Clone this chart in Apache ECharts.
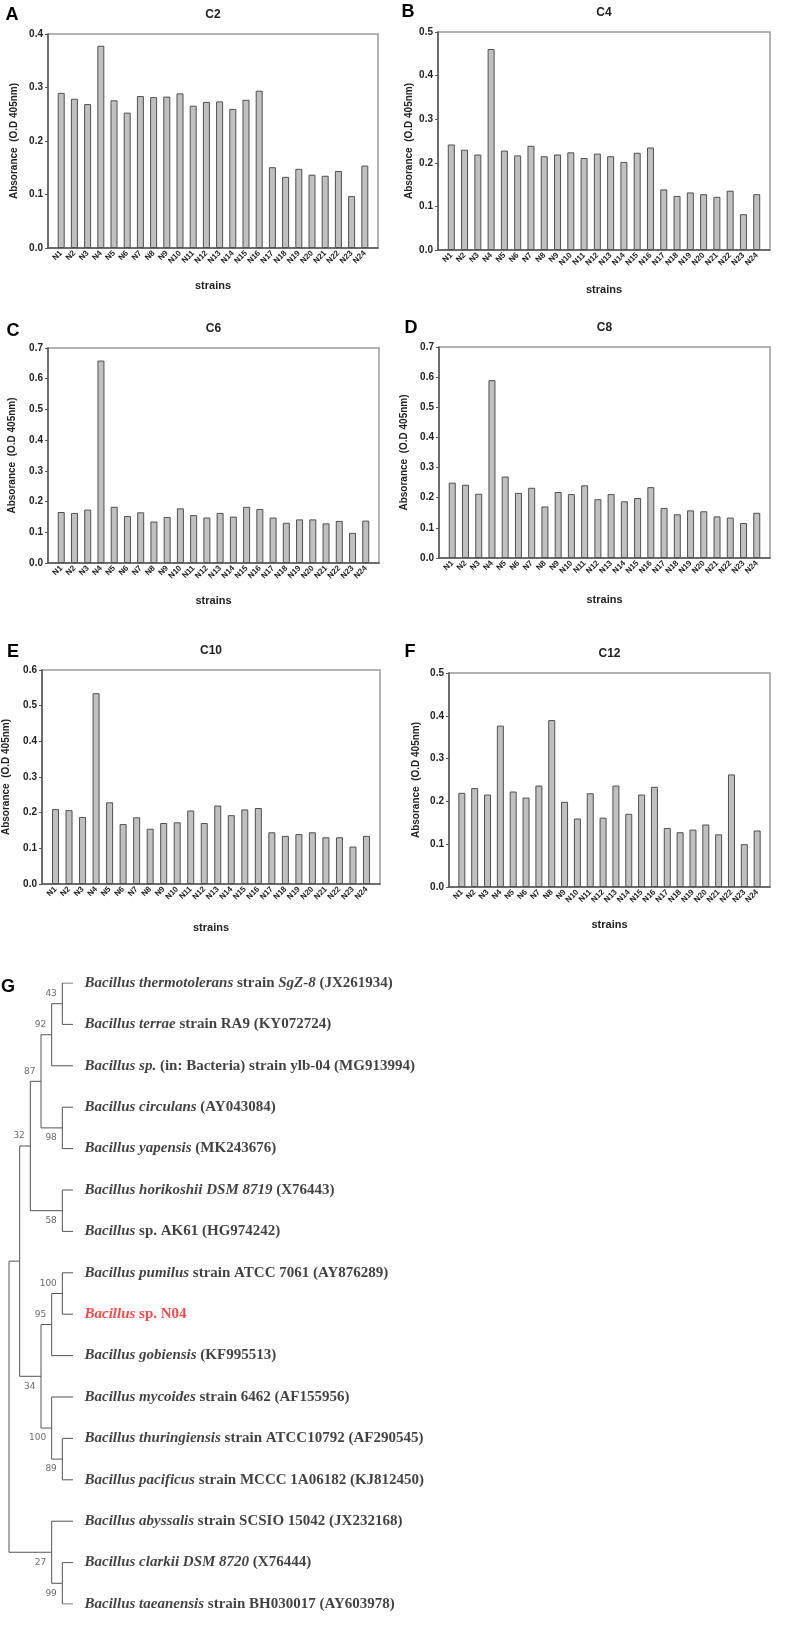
<!DOCTYPE html>
<html><head><meta charset="utf-8">
<script src="https://cdn.jsdelivr.net/npm/echarts@6/dist/echarts.min.js"></script>
<style>html,body{margin:0;padding:0;background:#fff}#chart{width:787px;height:1631px}</style>
</head><body><div id="chart"></div>
<script>
// ---------- DATA ----------
const strains = ['N1','N2','N3','N4','N5','N6','N7','N8','N9','N10','N11','N12','N13','N14','N15','N16','N17','N18','N19','N20','N21','N22','N23','N24'];
const panelTitles = ['C2','C4','C6','C8','C10','C12'];
const panelLetters = ['A','B','C','D','E','F'];
const yMaxes = [0.4, 0.5, 0.7, 0.7, 0.6, 0.5];
const yStep = 0.1;
const yAxisTitle = 'Absorance  (O.D 405nm)';
const xAxisTitle = 'strains';

const c2  = [0.290,0.279,0.269,0.378,0.276,0.253,0.284,0.282,0.283,0.289,0.266,0.273,0.274,0.260,0.277,0.294,0.151,0.133,0.148,0.137,0.135,0.144,0.097,0.154];
const c4  = [0.242,0.230,0.219,0.461,0.228,0.217,0.239,0.215,0.219,0.224,0.211,0.221,0.215,0.202,0.223,0.235,0.139,0.124,0.132,0.128,0.122,0.136,0.082,0.128];
const c6  = [0.166,0.163,0.174,0.659,0.183,0.153,0.165,0.135,0.150,0.178,0.156,0.148,0.163,0.151,0.183,0.176,0.148,0.131,0.142,0.142,0.129,0.137,0.098,0.138];
const c8  = [0.250,0.243,0.213,0.590,0.270,0.216,0.233,0.171,0.219,0.212,0.241,0.195,0.212,0.188,0.199,0.235,0.166,0.145,0.158,0.155,0.138,0.134,0.116,0.150];
const c10 = [0.210,0.207,0.188,0.535,0.229,0.168,0.187,0.155,0.171,0.173,0.206,0.171,0.220,0.193,0.209,0.213,0.145,0.135,0.140,0.145,0.131,0.131,0.105,0.135];
const c12 = [0.220,0.231,0.216,0.377,0.223,0.209,0.237,0.390,0.199,0.160,0.219,0.162,0.237,0.171,0.216,0.234,0.138,0.128,0.134,0.146,0.123,0.263,0.100,0.132];

const leafLabels = [
  '*Bacillus thermotolerans* strain *SgZ-8* (JX261934)',
  '*Bacillus terrae* strain RA9 (KY072724)',
  '*Bacillus sp.* (in: Bacteria) strain ylb-04 (MG913994)',
  '*Bacillus circulans* (AY043084)',
  '*Bacillus yapensis* (MK243676)',
  '*Bacillus horikoshii DSM 8719* (X76443)',
  '*Bacillus* sp. AK61 (HG974242)',
  '*Bacillus pumilus* strain ATCC 7061 (AY876289)',
  '*Bacillus* sp. N04',
  '*Bacillus gobiensis* (KF995513)',
  '*Bacillus mycoides* strain 6462 (AF155956)',
  '*Bacillus thuringiensis* strain ATCC10792 (AF290545)',
  '*Bacillus pacificus* strain MCCC 1A06182 (KJ812450)',
  '*Bacillus abyssalis* strain SCSIO 15042 (JX232168)',
  '*Bacillus clarkii DSM 8720* (X76444)',
  '*Bacillus taeanensis* strain BH030017 (AY603978)'
];
const highlightLeaf = 8;
const tipLevel = 6;
// tree: internal node = {lvl, b (bootstrap), up, c}; leaf = index into leafLabels
const tree = {lvl:0, c:[
  {lvl:1, c:[
    {lvl:2, b:32, up:true, c:[
      {lvl:3, b:87, up:true, c:[
        {lvl:4, b:92, up:true, c:[ {lvl:5, b:43, up:true, c:[0,1]}, 2 ]},
        {lvl:5, b:98, up:false, c:[3,4]}
      ]},
      {lvl:5, b:58, up:false, c:[5,6]}
    ]},
    {lvl:3, b:34, up:false, c:[
      {lvl:4, b:95, up:true, c:[ {lvl:5, b:100, up:true, c:[7,8]}, 9 ]},
      {lvl:4, b:100, up:false, c:[10, {lvl:5, b:89, up:false, c:[11,12]}]}
    ]}
  ]},
  {lvl:4, b:27, up:false, c:[13, {lvl:5, b:99, up:false, c:[14,15]}]}
]};

// ---------- LAYOUT ----------
const panels = [c2, c4, c6, c8, c10, c12];
const grids = [
  {left:48,  top:34,  width:330, height:214, yGap:29, xGap:32},
  {left:438, top:32,  width:332, height:218, yGap:24, xGap:34},
  {left:48,  top:348, width:331, height:215, yGap:31, xGap:32},
  {left:439, top:347, width:331, height:211, yGap:30, xGap:36},
  {left:42,  top:670, width:338, height:214, yGap:31, xGap:38},
  {left:449, top:673, width:321, height:214, yGap:28, xGap:32}
];
const letterPos = [[12,15],[408,12],[13,331],[411,328],[13,652],[410,652]];
const sans = 'Liberation Sans, Arial, sans-serif';
const serif = 'Liberation Serif, Times New Roman, serif';

const option = {animation:false, backgroundColor:'#fff', grid:[], xAxis:[], yAxis:[], series:[], graphic:[]};

panels.forEach((vals, k) => {
  const g = grids[k];
  option.grid.push({left:g.left, top:g.top, width:g.width, height:g.height, show:true,
    borderColor:'#9a9a9a', borderWidth:1.5, backgroundColor:'transparent'});
  option.xAxis.push({type:'value', gridIndex:k, min:0, max:strains.length+1, interval:1,
    name:xAxisTitle, nameLocation:'middle', nameGap:g.xGap,
    nameTextStyle:{fontFamily:sans, fontWeight:'bold', fontSize:11, color:'#222'},
    axisLine:{show:true, lineStyle:{color:'#555', width:1.5}},
    axisTick:{show:false}, splitLine:{show:false},
    axisLabel:{rotate:45, fontSize:8, fontWeight:'bold', fontFamily:sans, color:'#222', margin:4,
      formatter: v => strains[Math.round(v)-1] || ''}
  });
  option.yAxis.push({type:'value', gridIndex:k, min:0, max:yMaxes[k], interval:yStep,
    name:yAxisTitle, nameLocation:'middle', nameGap:g.yGap, nameRotate:90,
    nameTextStyle:{fontFamily:sans, fontWeight:'bold', fontSize:10, color:'#222'},
    axisLine:{show:true, lineStyle:{color:'#555', width:1.5}},
    axisTick:{show:true, length:3, lineStyle:{color:'#555'}},
    splitLine:{show:false},
    axisLabel:{fontSize:10, fontWeight:'bold', fontFamily:sans, color:'#222', margin:5,
      formatter: v => v.toFixed(1)}
  });
  option.series.push({type:'bar', xAxisIndex:k, yAxisIndex:k, barWidth:7,
    data: vals.map((v,i) => [i+1, v]),
    itemStyle:{color:'#c0c0c0', borderColor:'#505050', borderWidth:1}, silent:true});
  option.graphic.push({type:'text', x:g.left + g.width/2, y:g.top - 19,
    style:{text:panelTitles[k], font:'bold 12px ' + sans, fill:'#222', align:'center', verticalAlign:'middle'}});
  option.graphic.push({type:'text', x:letterPos[k][0], y:letterPos[k][1],
    style:{text:panelLetters[k], font:'bold 18px ' + sans, fill:'#000', align:'center', verticalAlign:'middle'}});
});

// ---------- TREE ----------
function layoutTree(node) {
  if (typeof node === 'number') return {leaf:node, lvl:tipLevel, y:node};
  const kids = node.c.map(layoutTree);
  return {lvl:node.lvl, b:node.b, up:node.up, y:(kids[0].y + kids[kids.length-1].y)/2, kids};
}
const laid = layoutTree(tree);
const branchLines = [], bootPts = [], leafPts = [];
(function walk(n) {
  if (n.kids === undefined) { leafPts.push({value:[n.lvl, n.y], leaf:n.leaf}); return; }
  if (n.b !== undefined) bootPts.push({value:[n.lvl, n.y], b:n.b, up:n.up});
  n.kids.forEach(k => {
    branchLines.push({coords:[[n.lvl, n.y],[n.lvl, k.y],[k.lvl, k.y]]});
    walk(k);
  });
})(laid);

const T = 6;
option.grid.push({left:9, top:983, width:64, height:621, show:false});
option.xAxis.push({type:'value', gridIndex:T, min:0, max:tipLevel, show:false});
option.yAxis.push({type:'value', gridIndex:T, min:0, max:leafLabels.length-1, inverse:true, show:false});

function richText(s, red) {
  return s.split('*').map((p, j) => p ? '{' + (j % 2 ? 'i' : 'n') + (red ? 'r' : '') + '|' + p + '}' : '').join('');
}
const leafFont = {fontFamily:serif, fontWeight:'bold', fontSize:15, color:'#111'};
option.series.push({type:'lines', coordinateSystem:'cartesian2d', xAxisIndex:T, yAxisIndex:T,
  polyline:true, silent:true, data:branchLines, lineStyle:{color:'#555', width:1, opacity:1}});
option.series.push({type:'scatter', xAxisIndex:T, yAxisIndex:T, symbolSize:1, silent:true,
  itemStyle:{color:'rgba(0,0,0,0)'},
  data: leafPts.map(p => ({value:p.value, leaf:p.leaf})),
  label:{show:true, position:'right', distance:11,
    formatter: p => richText(leafLabels[p.data.leaf], p.data.leaf === highlightLeaf),
    rich:{
      n: Object.assign({}, leafFont),
      i: Object.assign({}, leafFont, {fontStyle:'italic'}),
      nr: Object.assign({}, leafFont, {color:'#ff1a1a'}),
      ir: Object.assign({}, leafFont, {fontStyle:'italic', color:'#ff1a1a'})
    }}
});
option.series.push({type:'scatter', xAxisIndex:T, yAxisIndex:T, symbolSize:1, silent:true,
  itemStyle:{color:'rgba(0,0,0,0)'},
  data: bootPts.map(p => ({value:p.value, b:p.b,
    label:{offset:[0, p.up ? -10 : 10]}})),
  label:{show:true, position:'left', distance:5, fontSize:9, fontFamily:'DejaVu Sans, sans-serif',
    color:'#444', formatter: p => String(p.data.b)}
});
option.graphic.push({type:'text', x:8, y:987,
  style:{text:'G', font:'bold 18px ' + sans, fill:'#000', align:'center', verticalAlign:'middle'}});

const chart = echarts.init(document.getElementById('chart'), null, {renderer:'canvas'});
chart.setOption(option);
</script></body></html>
